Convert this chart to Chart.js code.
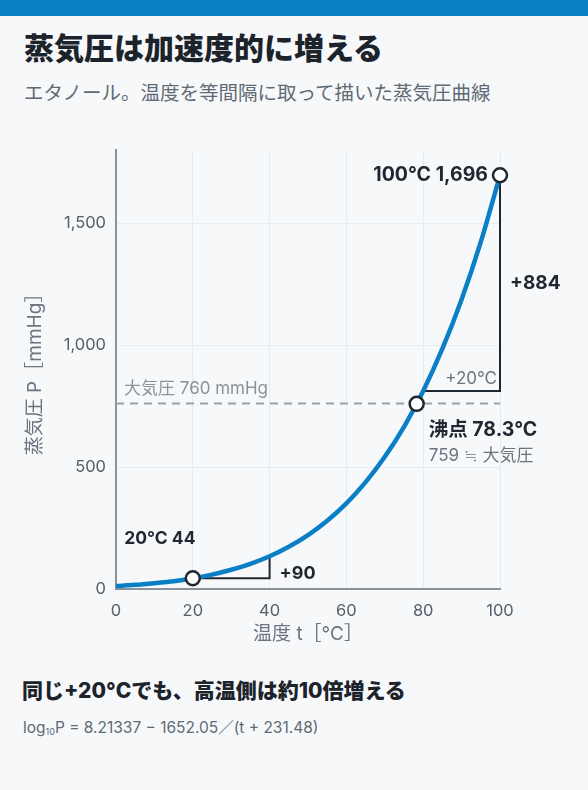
<!DOCTYPE html>
<html lang="ja">
<head>
  <meta charset="UTF-8">
  <title>蒸気圧は加速度的に増える</title>
  <script src="https://cdn.jsdelivr.net/npm/chart.js"></script>
  <style>
    body {
      margin: 0;
      width: 588px;
      height: 790px;
      background: #f6f8fa;
      font-family: 'Inter', 'Noto Sans CJK JP', sans-serif;
      position: relative;
      overflow: hidden;
    }
    .topbar { height: 16px; background: #0a7fc6; }
    h1 {
      position: absolute; left: 24px; top: 27px; margin: 0;
      font-size: 30px; font-weight: 900; color: #1c232b; line-height: 42px;
    }
    .sub {
      position: absolute; left: 24px; top: 79px; margin: 0;
      font-size: 19.5px; color: #5f6a75; line-height: 28px;
    }
    .wrap { position: absolute; left: 0; top: 130px; width: 588px; height: 530px; }
    .note {
      position: absolute; left: 22px; top: 676px; margin: 0;
      font-size: 21px; font-weight: 800; color: #1c232b; line-height: 30px;
    }
    .formula {
      position: absolute; left: 23px; top: 717px; margin: 0;
      font-size: 15.5px; color: #5f6a75; line-height: 22px;
    }
    .formula sub { font-size: 9px; vertical-align: -2px; }
  </style>
</head>
<body>
<div class="topbar"></div>
<h1>蒸気圧は加速度的に増える</h1>
<p class="sub">エタノール。温度を等間隔に取って描いた蒸気圧曲線</p>
<div class="wrap"><canvas id="vpChart"></canvas></div>
<p class="note">同じ+20°Cでも、高温側は約10倍増える</p>
<p class="formula">log<sub>10</sub>P = 8.21337 − 1652.05／(t + 231.48)</p>

<script>
  // 温度 [°C] と蒸気圧 [mmHg]
  const temps = [0, 5, 10, 15, 20, 25, 30, 35, 40, 45, 50, 55, 60, 65, 70, 75, 80, 85, 90, 95, 100];
  const pressures = [12, 17, 24, 32, 44, 59, 79, 103, 134, 173, 221, 280, 351, 438, 542, 665, 812, 985, 1187, 1423, 1696];

  // 注目点
  const markTemps = [20, 78.3, 100];
  const markPressures = [44, 759, 1696];

  const atmPressure = 760;
  const yTicks = [0, 500, 1000, 1500];
  const xTicks = [0, 20, 40, 60, 80, 100];

  const BLUE = '#0a7fc6';
  const DARK = '#1f2730';
  const GRAY = '#6b7580';
  const FONT = 'Inter, "Noto Sans CJK JP"';

  // 増分の三角 [t0, t1, p0, p1, ラベル]
  const steps = [[20, 40, 44, 134, '+90'], [80, 100, 812, 1696, '+884']];

  // 注釈（線は曲線の下、文字は上）
  const annotations = {
    id: 'annotations',
    beforeDatasetsDraw(chart) {
      const { ctx, scales: { x, y } } = chart;
      const px = v => x.getPixelForValue(v);
      const py = v => y.getPixelForValue(v);
      ctx.save();
      ctx.strokeStyle = '#9aa1a8';
      ctx.lineWidth = 2;
      ctx.setLineDash([8, 6]);
      ctx.beginPath();
      ctx.moveTo(px(0), py(atmPressure));
      ctx.lineTo(px(100), py(atmPressure));
      ctx.stroke();
      ctx.setLineDash([]);

      ctx.strokeStyle = DARK;
      steps.forEach(([t0, t1, p0, p1]) => {
        ctx.beginPath();
        ctx.moveTo(px(t0), py(p0));
        ctx.lineTo(px(t1), py(p0));
        ctx.lineTo(px(t1), py(p1));
        ctx.stroke();
      });
      ctx.restore();
    },
    afterDatasetsDraw(chart) {
      const { ctx, scales: { x, y } } = chart;
      const px = v => x.getPixelForValue(v);
      const py = v => y.getPixelForValue(v);
      ctx.save();

      ctx.fillStyle = '#8a939c';
      ctx.font = '17px ' + FONT;
      ctx.textAlign = 'left';
      ctx.textBaseline = 'alphabetic';
      ctx.fillText('大気圧 760 mmHg', px(0) + 8, py(atmPressure) - 10);

      ctx.fillStyle = DARK;
      ctx.textBaseline = 'middle';
      ctx.font = '700 18px ' + FONT;
      ctx.fillText(steps[0][4], px(40) + 10, py(44) - 5);
      ctx.font = '700 19px ' + FONT;
      ctx.fillText(steps[1][4], px(100) + 10, (py(812) + py(1696)) / 2);

      ctx.fillStyle = GRAY;
      ctx.font = '17px ' + FONT;
      ctx.textAlign = 'right';
      ctx.textBaseline = 'alphabetic';
      ctx.fillText('+20°C', px(100) - 3, py(812) - 7);

      // 点のラベル
      ctx.fillStyle = DARK;
      ctx.textBaseline = 'middle';
      ctx.font = '700 17.5px ' + FONT;
      ctx.textAlign = 'center';
      ctx.fillText('20°C 44', px(20) - 33, py(44) - 40);
      ctx.font = '700 19.5px ' + FONT;
      ctx.textAlign = 'right';
      ctx.fillText('100°C 1,696', px(100) - 12, py(1696));
      ctx.textAlign = 'left';
      ctx.fillText('沸点 78.3°C', px(78.3) + 12, py(759) + 26);
      ctx.fillStyle = GRAY;
      ctx.font = '17px ' + FONT;
      ctx.fillText('759 ≒ 大気圧', px(78.3) + 12, py(759) + 52);

      ctx.restore();
    }
  };

  new Chart(document.getElementById('vpChart'), {
    type: 'line',
    data: {
      datasets: [{
        data: temps.map((t, i) => ({ x: t, y: pressures[i] })),
        borderColor: BLUE,
        borderWidth: 4.5,
        pointRadius: 0,
        cubicInterpolationMode: 'monotone',
        fill: false,
        clip: false,
        order: 2
      }, {
        data: markTemps.map((t, i) => ({ x: t, y: markPressures[i] })),
        showLine: false,
        pointRadius: 7,
        pointBackgroundColor: '#ffffff',
        pointBorderColor: DARK,
        pointBorderWidth: 2.5,
        clip: false,
        order: 0
      }]
    },
    options: {
      responsive: true,
      maintainAspectRatio: false,
      animation: false,
      locale: 'en-US',
      layout: { padding: { left: 20, right: 88, top: 0, bottom: 14 } },
      plugins: { legend: { display: false }, tooltip: { enabled: false } },
      scales: {
        x: {
          type: 'linear',
          min: 0,
          max: 100,
          afterBuildTicks: s => { s.ticks = xTicks.map(v => ({ value: v })); },
          afterFit: s => { s.height = 57; },
          ticks: { color: '#55606b', font: { size: 16.5, family: 'Inter' }, padding: 12 },
          grid: { color: '#e7ecf0', drawTicks: false },
          border: { color: '#8a939c', width: 2 },
          title: { display: true, text: '温度 t［°C］', color: GRAY, font: { size: 19, family: FONT }, padding: 0 }
        },
        y: {
          min: 0,
          max: 1800,
          afterBuildTicks: s => { s.ticks = yTicks.map(v => ({ value: v })); },
          afterFit: s => { s.width = 96; },
          ticks: { color: '#55606b', font: { size: 16.5, family: 'Inter' }, padding: 10 },
          grid: { color: '#e7ecf0', drawTicks: false },
          border: { color: '#8a939c', width: 2 },
          title: { display: true, text: '蒸気圧 P［mmHg］', color: GRAY, font: { size: 19, family: FONT }, padding: 4 }
        }
      }
    },
    plugins: [annotations]
  });
</script>
</body>
</html>
